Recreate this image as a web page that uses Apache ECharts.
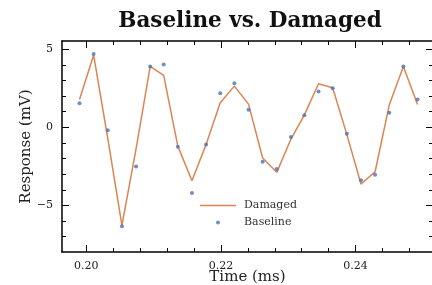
<!DOCTYPE html>
<html>
<head>
<meta charset="utf-8">
<script src="https://cdn.jsdelivr.net/npm/echarts@6/dist/echarts.min.js"></script>
<style>
  html, body { margin: 0; padding: 0; background: #fff; }
  #chart { width: 432px; height: 285px; }
</style>
</head>
<body>
<div id="chart"></div>
<script>
const times = [0.1990, 0.2011, 0.2032, 0.2053, 0.2074, 0.2095, 0.2115, 0.2136, 0.2157, 0.2178,
  0.2199, 0.2220, 0.2241, 0.2262, 0.2283, 0.2304, 0.2324, 0.2345, 0.2366, 0.2387,
  0.2408, 0.2429, 0.2450, 0.2471, 0.2492]
const baseline = [1.54, 4.69, -0.19, -6.33, -2.50, 3.90, 4.03, -1.24, -4.20, -1.09,
  2.18, 2.82, 1.13, -2.20, -2.67, -0.62, 0.77, 2.30, 2.50, -0.41,
  -3.39, -3.03, 0.93, 3.90, 1.79]
const damaged = [1.79, 4.63, -0.70, -6.27, -1.37, 3.90, 3.33, -1.20, -3.42, -1.09,
  1.57, 2.64, 1.49, -1.96, -2.88, -0.75, 0.80, 2.79, 2.54, -0.45,
  -3.63, -2.84, 1.43, 3.90, 1.47]
const xMajor = [0.20, 0.22, 0.24]
const xMinor = [0.204, 0.208, 0.212, 0.216, 0.224, 0.228, 0.232, 0.236, 0.244, 0.248]
const yMajor = [-5, 0, 5]
const yMinor = [-7, -6, -4, -3, -2, -1, 1, 2, 3, 4]

const xMin = 0.1964, xMax = 0.2515
const yMin = -7.98, yMax = 5.53
const serif = 'DejaVu Serif'

function pairs(xs, ys) {
  return xs.map((x, i) => [x, ys[i]])
}

// grid 0 carries the major ticks, grid 1 (same box) the minor ones
function axis(grid, pos, min, max, ticks, len, extra) {
  return Object.assign({
    type: 'value', gridIndex: grid, position: pos, min: min, max: max,
    splitLine: { show: false },
    axisLine: { show: false, onZero: false },
    axisTick: { inside: true, length: len, customValues: ticks, lineStyle: { color: '#000', width: 1 } },
    axisLabel: { show: false }
  }, extra || {})
}

const box = { left: 62, top: 41, right: -1, bottom: 33, containLabel: false, outerBoundsMode: 'none' }
const line = { show: true, onZero: false, lineStyle: { color: '#000', width: 1.5 } }
const labelStyle = { fontFamily: serif, fontSize: 11, color: '#222' }
const legendText = { fontFamily: serif, fontSize: 11, color: '#333' }

const chart = echarts.init(document.getElementById('chart'))
chart.setOption({
  animation: false,
  title: {
    text: 'Baseline vs. Damaged',
    left: 245, top: 5, textAlign: 'center',
    textStyle: { fontFamily: serif, fontSize: 21.5, fontWeight: 'bold', color: '#111' }
  },
  grid: [box, Object.assign({}, box)],
  legend: [
    {
      left: 195, top: 195, itemWidth: 36, itemHeight: 1.6, symbolKeepAspect: false,
      textStyle: Object.assign({ padding: [0, 0, 0, 3] }, legendText),
      data: [{ name: 'Damaged', icon: 'rect' }]
    },
    {
      left: 211, top: 212, itemWidth: 4, itemHeight: 4,
      textStyle: Object.assign({ padding: [0, 0, 0, 19] }, legendText),
      data: [{ name: 'Baseline', icon: 'circle' }]
    }
  ],
  xAxis: [
    axis(0, 'bottom', xMin, xMax, xMajor, 7, {
      axisLine: line,
      axisLabel: Object.assign({ show: true, customValues: xMajor, margin: 9,
        formatter: v => v.toFixed(2) }, labelStyle),
      name: 'Time (ms)', nameLocation: 'middle', nameGap: 18, nameMoveOverlap: false,
      nameTextStyle: { fontFamily: serif, fontSize: 15, color: '#222' }
    }),
    axis(0, 'top', xMin, xMax, xMajor, 7, { axisLine: line }),
    axis(1, 'bottom', xMin, xMax, xMinor, 4),
    axis(1, 'top', xMin, xMax, xMinor, 4)
  ],
  yAxis: [
    axis(0, 'left', yMin, yMax, yMajor, 7, {
      axisLine: line,
      axisLabel: Object.assign({ show: true, customValues: yMajor, margin: 9,
        formatter: v => String(v).replace('-', '\u2212') }, labelStyle),
      name: 'Response (mV)', nameLocation: 'middle', nameGap: 28, nameRotate: 90, nameMoveOverlap: false,
      nameTextStyle: { fontFamily: serif, fontSize: 15, color: '#222' }
    }),
    axis(0, 'right', yMin, yMax, yMajor, 7, { axisLine: line }),
    axis(1, 'left', yMin, yMax, yMinor, 4),
    axis(1, 'right', yMin, yMax, yMinor, 4)
  ],
  series: [
    {
      name: 'Damaged', type: 'line', data: pairs(times, damaged),
      xAxisIndex: 0, yAxisIndex: 0,
      symbol: 'none', color: '#DD8452',
      lineStyle: { color: '#DD8452', width: 1.5 }, z: 2
    },
    {
      name: 'Baseline', type: 'scatter', data: pairs(times, baseline),
      xAxisIndex: 0, yAxisIndex: 0,
      symbol: 'circle', symbolSize: 4,
      itemStyle: { color: '#4C72B0' }, z: 3
    }
  ]
})
</script>
</body>
</html>
